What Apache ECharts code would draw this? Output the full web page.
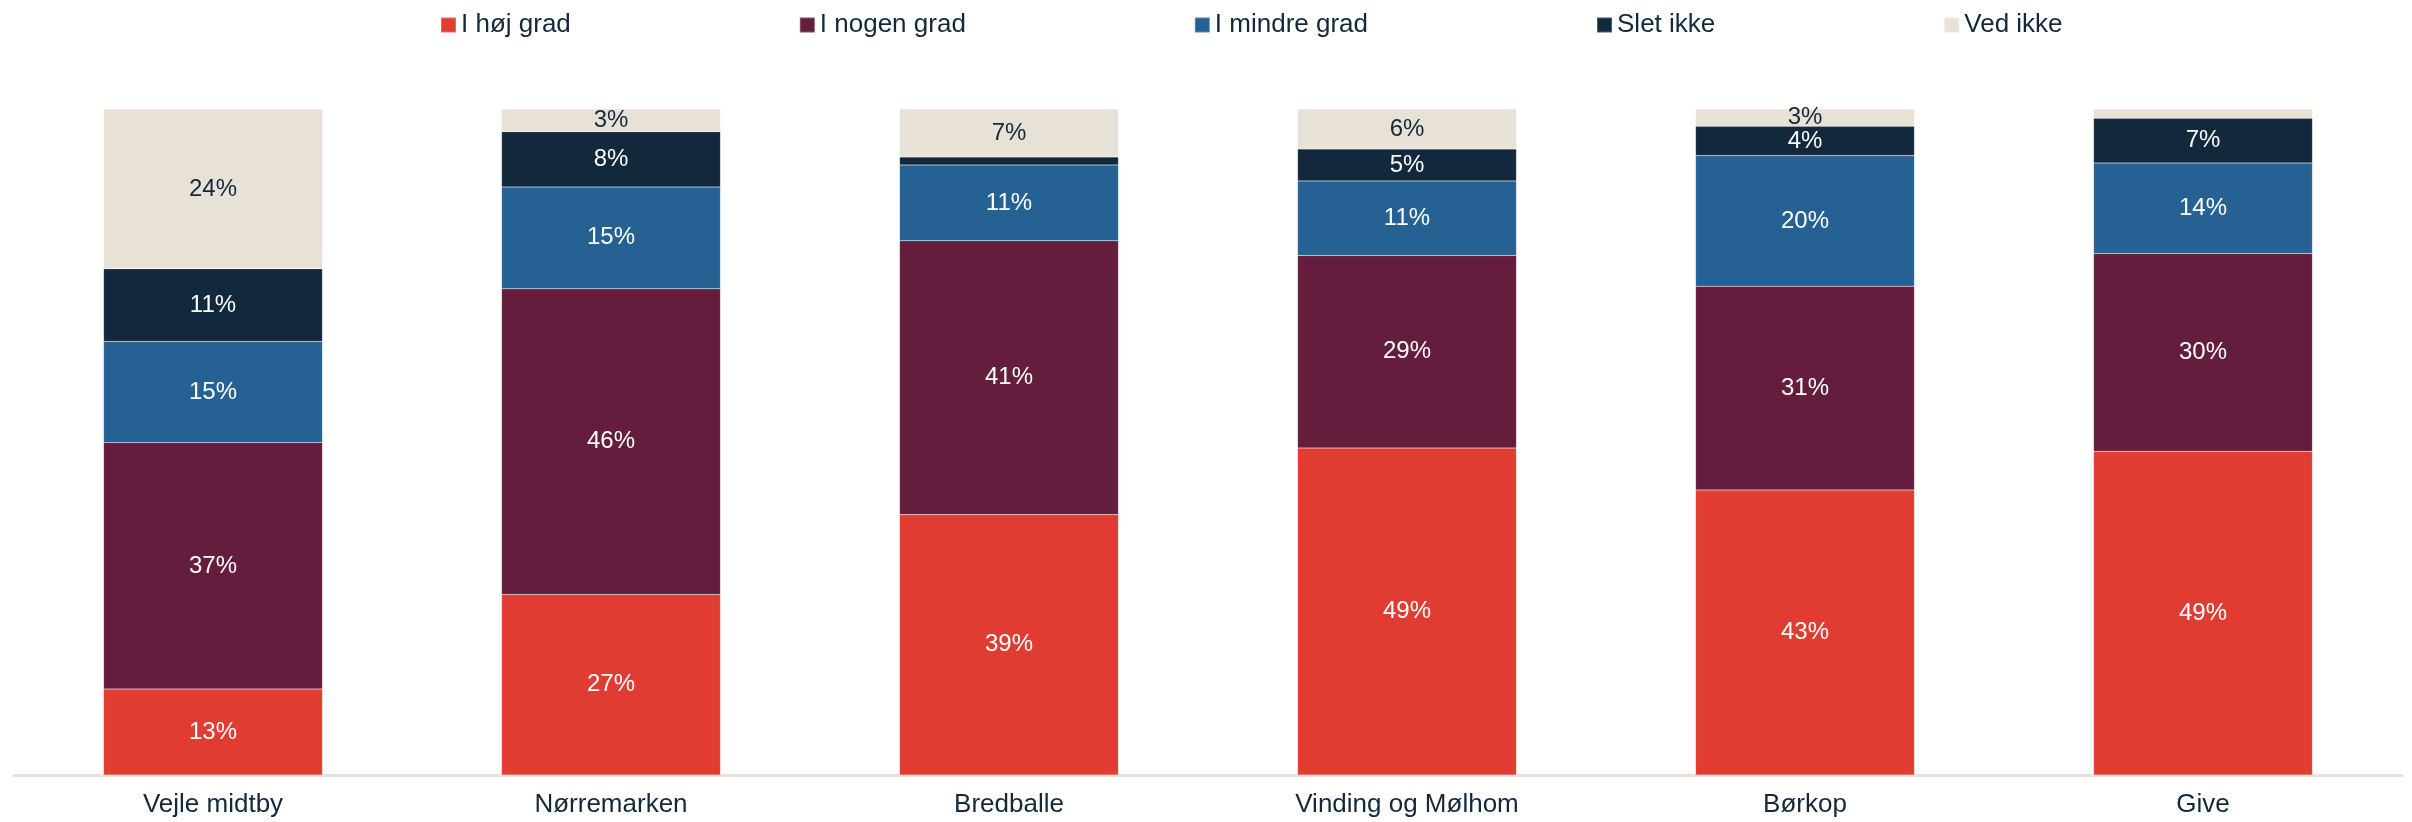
<!DOCTYPE html>
<html>
<head>
<meta charset="utf-8">
<script src="https://cdn.jsdelivr.net/npm/echarts@6/dist/echarts.min.js"></script>
<style>
  html, body { margin: 0; padding: 0; background: #ffffff; }
  #chart { width: 2412px; height: 822px; }
</style>
</head>
<body>
<div id="chart"></div>
<script>
// Categories
const categories = ['Vejle midtby', 'Nørremarken', 'Bredballe', 'Vinding og Mølhom', 'Børkop', 'Give'];
// Series names
const seriesNames = ['I høj grad', 'I nogen grad', 'I mindre grad', 'Slet ikke', 'Ved ikke'];
// Series values (percent)
const hojGrad    = [12.9, 27.1, 39.1, 49.1, 42.8, 48.6];
const nogenGrad  = [37.0, 45.9, 41.1, 28.9, 30.6, 29.7];
const mindreGrad = [15.2, 15.3, 11.4, 11.2, 19.6, 13.6];
const sletIkke   = [10.9, 8.3, 1.2, 4.8, 4.4, 6.7];
const vedIkke    = [24.0, 3.4, 7.2, 6.0, 2.6, 1.4];

const values = [hojGrad, nogenGrad, mindreGrad, sletIkke, vedIkke];
const colors = ['#E03C31', '#641D3D', '#256293', '#12283C', '#E7E1D6'];
const labelColors = ['#ffffff', '#ffffff', '#ffffff', '#ffffff', '#12283C'];
const FONT = 'Liberation Sans, Arial, sans-serif';

const chart = echarts.init(document.getElementById('chart'));
chart.setOption({
  animation: false,
  backgroundColor: '#ffffff',
  legend: {
    top: 7,
    left: 435,
    itemWidth: 15,
    itemHeight: 15,
    itemGap: 228,
    icon: 'rect',
    textStyle: { fontFamily: FONT, fontSize: 26, color: '#12283C' },
    data: seriesNames
  },
  grid: { left: 14, right: 10, top: 109, bottom: 47, containLabel: false },
  xAxis: {
    type: 'category',
    data: categories,
    axisLine: { lineStyle: { color: '#E7E1D6', width: 3 } },
    axisTick: { show: false },
    axisLabel: { fontFamily: FONT, fontSize: 26, color: '#12283C', margin: 17 }
  },
  yAxis: {
    type: 'value',
    min: 0,
    max: 100,
    show: false,
    splitLine: { show: false }
  },
  series: seriesNames.map((name, i) => ({
    name: name,
    type: 'bar',
    stack: 'total',
    barWidth: '55%',
    data: values[i],
    itemStyle: { color: colors[i], borderColor: 'rgba(255,255,255,0.25)', borderWidth: 0.5 },
    label: {
      show: true,
      position: 'inside',
      fontFamily: FONT,
      fontSize: 24,
      color: labelColors[i],
      formatter: p => (p.value < 2 ? '' : Math.round(p.value) + '%')
    }
  }))
});
</script>
</body>
</html>
